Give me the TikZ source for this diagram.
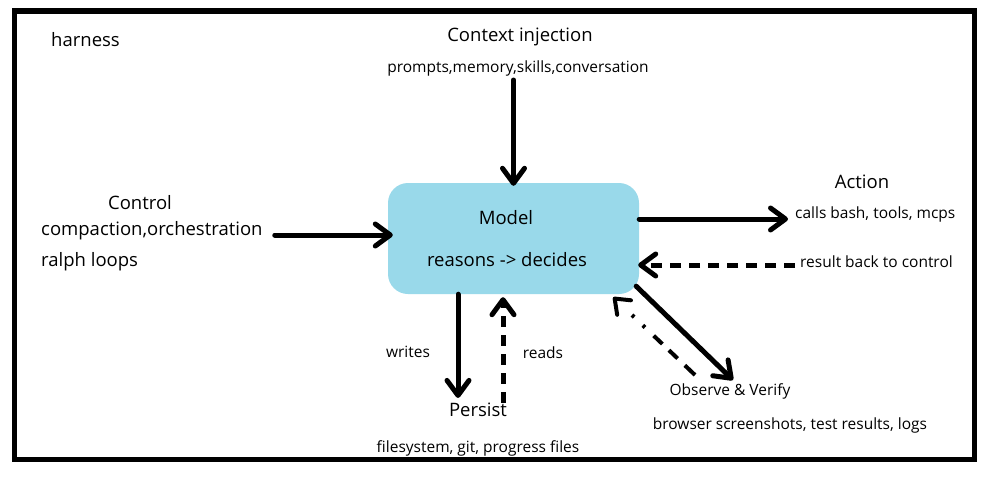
\documentclass[tikz,border=0pt]{standalone}
\usepackage{fontspec}
\setmainfont{Open Sans}
\usetikzlibrary{arrows.meta,calc}
\definecolor{modelblue}{RGB}{153,217,234}
\begin{document}
\begin{tikzpicture}[x=1pt,y=-1pt,
  lbl/.style={inner sep=0pt,font=\fontsize{15.5}{18}\selectfont},
  big/.style={inner sep=0pt,font=\fontsize{18.5}{22}\selectfont},
  conn/.style={line width=5pt,line cap=round,-{Straight Barb[length=15pt,width=22pt,round]}},
  dconn/.style={conn,line cap=butt,dash pattern=on 11pt off 8pt},
]
\useasboundingbox (0,0) rectangle (988,480);
\fill[white] (0,0) rectangle (988,480);
\draw[line width=5.5pt] (14.5,11) rectangle (974.5,459.5);

\node[fill=modelblue,rounded corners=20pt,minimum width=251pt,minimum height=111pt,inner sep=0pt] (model) at (513.5,238.5) {};
\node[big] (mtitle) at (506,218) {Model};
\node[big] (mline) at (507,260) {reasons -> decides};

\node[big,anchor=west] (harness) at (51,40) {harness};

\node[big] (ctxt) at (520,37) {Context injection};
\node[lbl] (ctxs) at (518,68) {prompts,memory,skills,conversation};

\node[big] (ctrl) at (140,203) {Control};
\node[big,anchor=west] (ctrl2) at (41,231) {compaction,orchestration};
\node[big,anchor=west] (ctrl3) at (41,262) {ralph loops};

\node[big] (act) at (862,182) {Action};
\node[lbl,anchor=west] (act2) at (795,214) {calls bash, tools, mcps};
\node[lbl,anchor=west] (res) at (800,262) {result back to control};

\node[lbl] (writes) at (408,352) {writes};
\node[lbl] (reads) at (543,353) {reads};
\node[big] (persist) at (478,410) {Persist};
\node[lbl] (pfiles) at (478,448) {filesystem, git, progress files};

\node[lbl] (obs) at (730,391) {Observe \& Verify};
\node[lbl] (obs2) at (790,425) {browser screenshots, test results, logs};

% connectors
\draw[conn] (model.north |- 0,80) -- ($(model.north)+(0,3)$);
\draw[conn] ($(ctrl2.east |- 0,235)+(12,0)$) -- ($(model.west |- 0,235)+(5,0)$);
\draw[conn] (model.east |- 0,219) -- ($(act2.west |- 0,219)+(-7,0)$);
\draw[dconn] ($(res.west |- 0,265)+(-5,0)$) -- ($(model.east |- 0,265)+(-1,0)$);
\draw[conn] (model.south -| 458,0) -- ($(persist.north -| 458,0)+(0,-5)$);
\draw[dconn] (persist.north -| 503,0) -- ($(model.south -| 503,0)+(0,3)$);
\draw[conn] ($(model.south east)+(-3,-8)$) -- ($(obs.north)+(3,-3)$);
\draw[line width=4pt,-{Straight Barb[length=13pt,width=20pt,round]},dash pattern=on 14pt off 10pt on 12pt off 9pt on 12pt off 12pt on 3pt off 12pt on 3pt off 60pt]
  ($(obs.north)+(-35,-8)$) -- ($(model.south east)+(-26,3)$);
\end{tikzpicture}
\end{document}
